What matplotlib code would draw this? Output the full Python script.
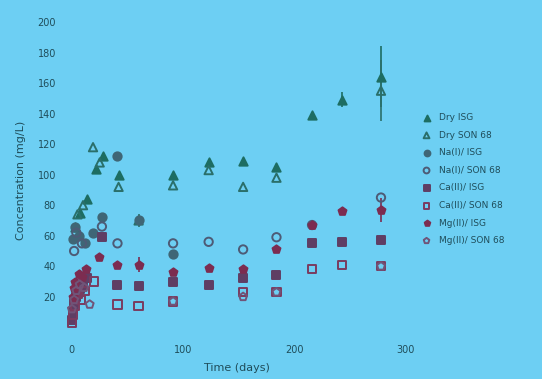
import matplotlib
matplotlib.use("Agg")
import matplotlib.pyplot as plt

# Sampling days and measured concentrations (mg/L) for each leachate series
labels = ["Dry ISG", "Dry SON 68", "Na(I)/ ISG", "Na(I)/ SON 68",
          "Ca(II)/ ISG", "Ca(II)/ SON 68", "Mg(II)/ ISG", "Mg(II)/ SON 68"]

dry_isg_days = [3, 7, 14, 22, 28, 42, 91, 123, 154, 184, 216, 243, 278]
dry_isg_vals = [66, 75, 84, 104, 112, 100, 100, 108, 109, 105, 139, 149, 164]
dry_isg_err = [0, 0, 0, 0, 0, 0, 0, 0, 0, 0, 0, 5, 20]

dry_son_days = [5, 10, 19, 25, 42, 60, 91, 123, 154, 184, 278]
dry_son_vals = [74, 80, 118, 108, 92, 70, 93, 103, 92, 98, 155]
dry_son_err = [0, 0, 0, 0, 0, 4, 0, 0, 0, 0, 20]

na_isg_days = [1, 3, 6, 12, 19, 27, 41, 60, 91]
na_isg_vals = [58, 66, 60, 55, 62, 72, 112, 70, 48]

na_son_days = [2, 4, 9, 27, 41, 91, 123, 154, 184, 216, 278]
na_son_vals = [50, 62, 55, 66, 55, 55, 56, 51, 59, 67, 85]

ca_isg_days = [0, 1, 2, 4, 7, 10, 14, 27, 41, 60, 91, 123, 154, 184, 216, 243, 278]
ca_isg_vals = [5, 10, 16, 20, 25, 28, 32, 59, 28, 27, 30, 28, 32, 34, 55, 56, 57]

ca_son_days = [0, 1, 3, 5, 8, 12, 20, 41, 60, 91, 154, 184, 216, 243, 278]
ca_son_vals = [3, 8, 14, 22, 18, 24, 30, 15, 14, 17, 23, 23, 38, 41, 40]

mg_isg_days = [1, 2, 3, 6, 9, 13, 24, 41, 60, 91, 123, 154, 184, 216, 243, 278]
mg_isg_vals = [20, 26, 30, 35, 33, 38, 46, 41, 41, 36, 39, 38, 51, 67, 76, 77]
mg_isg_err = [0, 0, 0, 0, 0, 0, 0, 0, 5, 0, 0, 0, 0, 0, 0, 8]

mg_son_days = [0, 2, 4, 7, 11, 16, 91, 154, 184, 278]
mg_son_vals = [12, 18, 24, 28, 26, 15, 17, 20, 23, 40]

series = [
    (dry_isg_days, dry_isg_vals, dry_isg_err),
    (dry_son_days, dry_son_vals, dry_son_err),
    (na_isg_days, na_isg_vals, None),
    (na_son_days, na_son_vals, None),
    (ca_isg_days, ca_isg_vals, None),
    (ca_son_days, ca_son_vals, None),
    (mg_isg_days, mg_isg_vals, mg_isg_err),
    (mg_son_days, mg_son_vals, None),
]

colors = ["#1d6d62", "#2a6f6a", "#3f6676", "#4d5b76",
          "#5f3e64", "#7a3b5f", "#7c2c50", "#705478"]
markers = ["^", "^", "o", "o", "s", "s", "p", "p"]
filled = [True, False, True, False, True, False, True, False]

bg = "#6dcff3"
ink = "#1f4d5a"

fig = plt.figure(figsize=(5.42, 3.79), dpi=100, facecolor=bg)
ax = fig.add_axes([63 / 542, 1 - 338 / 379, (411 - 63) / 542, (338 - 22) / 379])
ax.set_facecolor(bg)

handles = []
for (d, v, e), c, m, f, lab in zip(series, colors, markers, filled, labels):
    if e is not None:
        ax.errorbar(d, v, yerr=e, fmt="none", ecolor=c, elinewidth=1.2, capsize=0)
    h = ax.scatter(d, v, marker=m, s=36,
                   facecolors=c if f else "none", edgecolors=c,
                   linewidths=1.4, label=lab, zorder=3)
    handles.append(h)

ax.set_xlim(-8, 305)
ax.set_ylim(-7, 200)
ax.set_xticks([0, 100, 200, 300])
ax.set_yticks(list(range(20, 201, 20)))
ax.tick_params(length=0, labelsize=7, colors=ink, pad=5)
for s in ax.spines.values():
    s.set_visible(False)

ax.set_xlabel("Time (days)", fontsize=8, color=ink, labelpad=6)
ax.set_ylabel("Concentration (mg/L)", fontsize=8, color=ink, labelpad=8)

leg = fig.legend(handles=handles, labels=labels, loc="upper left",
                 bbox_to_anchor=(413 / 542, 1 - 105 / 379), frameon=False,
                 fontsize=6.5, labelcolor=ink, handletextpad=0.8,
                 labelspacing=0.95, markerscale=0.7, handlelength=1.2)

fig.savefig("out.png", dpi=100, facecolor=bg)
